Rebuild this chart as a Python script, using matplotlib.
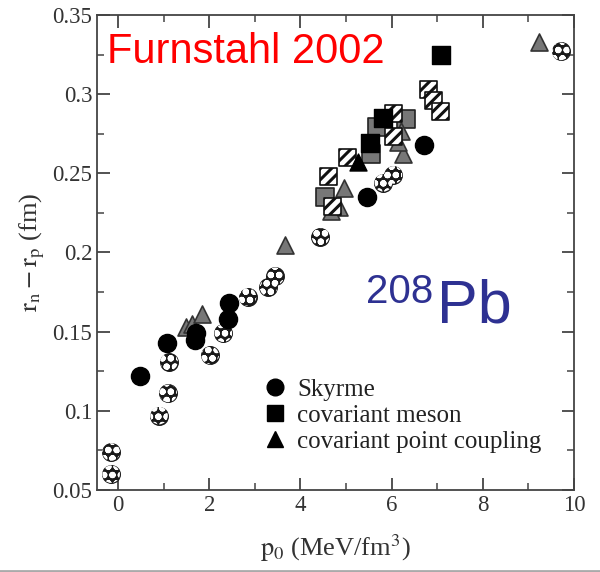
import matplotlib.pyplot as plt
from matplotlib.lines import Line2D

plt.rcParams['font.family'] = ['Liberation Serif', 'DejaVu Serif']
plt.rcParams['mathtext.fontset'] = 'stix'
plt.rcParams['hatch.linewidth'] = 2.2

# Skyrme, solid black circles
sky_x = [0.48, 1.08, 1.69, 1.72, 2.44, 2.42, 5.47, 6.70]
sky_y = [0.122, 0.143, 0.145, 0.149, 0.168, 0.158, 0.235, 0.268]

# patterned (dotted) circles
dot_x = [-0.15, -0.15, 0.90, 1.10, 1.12, 2.02, 2.31, 2.84, 3.30, 3.45, 4.44, 5.82, 6.04, 9.71]
dot_y = [0.074, 0.060, 0.097, 0.111, 0.131, 0.135, 0.149, 0.172, 0.178, 0.185, 0.210, 0.244, 0.249, 0.327]

# covariant meson squares
msq_x = [7.08, 5.82, 5.52]
msq_y = [0.325, 0.285, 0.269]
gsq_x = [5.69, 6.31, 4.55, 5.54]
gsq_y = [0.279, 0.284, 0.235, 0.262]
hsq_x = [6.81, 6.92, 7.07, 6.04, 6.04, 5.03, 4.62, 4.70]
hsq_y = [0.303, 0.296, 0.289, 0.288, 0.273, 0.260, 0.248, 0.229]

# covariant point coupling triangles
tri_x = [9.23, 3.67, 1.50, 1.62, 1.85, 4.95, 4.84, 4.66, 6.20, 6.25, 6.15]
tri_y = [0.333, 0.205, 0.153, 0.155, 0.161, 0.241, 0.229, 0.226, 0.277, 0.262, 0.270]
btri_x = [5.27]
btri_y = [0.257]

fig = plt.figure(figsize=(6, 5.72), dpi=100)
ax = fig.add_axes([0.1617, 0.1434, 0.795, 0.8304])

ax.scatter(dot_x, dot_y, s=160, marker='o', facecolor='#1a1a1a', edgecolor='#1a1a1a', zorder=2)
ax.scatter(dot_x, dot_y, s=160, marker='o', facecolor='none', edgecolor='white', hatch='oo', linewidth=0, zorder=2)
ax.scatter(gsq_x, gsq_y, s=150, marker='s', facecolor='#777777', edgecolor='#222222', linewidth=1.2, zorder=3)
ax.scatter(tri_x, tri_y, s=150, marker='^', facecolor='#777777', edgecolor='#333333', linewidth=1.2, zorder=3)
ax.scatter(hsq_x, hsq_y, s=150, marker='s', facecolor='white', edgecolor='#111111', hatch='///', linewidth=1.2, zorder=4)
ax.scatter(msq_x, msq_y, s=150, marker='s', color='black', zorder=4)
ax.scatter(btri_x, btri_y, s=150, marker='^', color='black', zorder=4)
ax.scatter(sky_x, sky_y, s=170, marker='o', color='black', zorder=5)

ax.set_xlim(-0.46, 10)
ax.set_ylim(0.05, 0.35)
ax.set_xticks([0, 2, 4, 6, 8, 10])
ax.set_xticks([1, 3, 5, 7, 9], minor=True)
ax.set_yticks([0.05, 0.1, 0.15, 0.2, 0.25, 0.3, 0.35])
ax.set_yticklabels(['0.05', '0.1', '0.15', '0.2', '0.25', '0.3', '0.35'])
ax.set_yticks([0.075, 0.125, 0.175, 0.225, 0.275, 0.325], minor=True)
ax.tick_params(which='both', direction='in', top=True, right=True, color='#444444', labelsize=16.5, labelcolor='#333333')
ax.tick_params(which='major', length=9, width=1.3)
ax.tick_params(which='minor', length=5, width=1.1)
for sp in ax.spines.values():
    sp.set_color('#444444')
    sp.set_linewidth(1.3)

ax.set_xlabel(r'$\mathrm{p_0}$ (MeV/fm$^3$)', fontsize=19, color='#333333', labelpad=12)
ax.set_ylabel(r'$\mathrm{r_n - r_p}$ (fm)', fontsize=19, color='#333333', labelpad=4)

handles = [
    Line2D([], [], marker='o', color='black', linestyle='none', markersize=12),
    Line2D([], [], marker='s', color='black', linestyle='none', markersize=11),
    Line2D([], [], marker='^', color='black', linestyle='none', markersize=12),
]
ax.legend(handles, ['Skyrme', 'covariant meson', 'covariant point coupling'],
          loc='upper left', bbox_to_anchor=(0.31, 0.262), frameon=False, fontsize=18,
          handletextpad=0.2, labelspacing=0.15, borderpad=0, handlelength=1.4,
          labelcolor='#222222')

fig.text(0.178, 0.890, 'Furnstahl 2002', color='#ff0000', fontsize=30,
         family='Liberation Sans', va='baseline')
ax.text(0.564, 0.394, '208', transform=ax.transAxes, color='#2e3192',
        fontsize=29, family='Liberation Sans', va='baseline')
ax.text(0.713, 0.352, 'Pb', transform=ax.transAxes, color='#2e3192',
        fontsize=44, family='Liberation Sans', va='baseline')

fig.add_artist(Line2D([0, 1], [0.002, 0.002], color='#aaaaaa', linewidth=2))

fig.savefig('out.png', dpi=100)
